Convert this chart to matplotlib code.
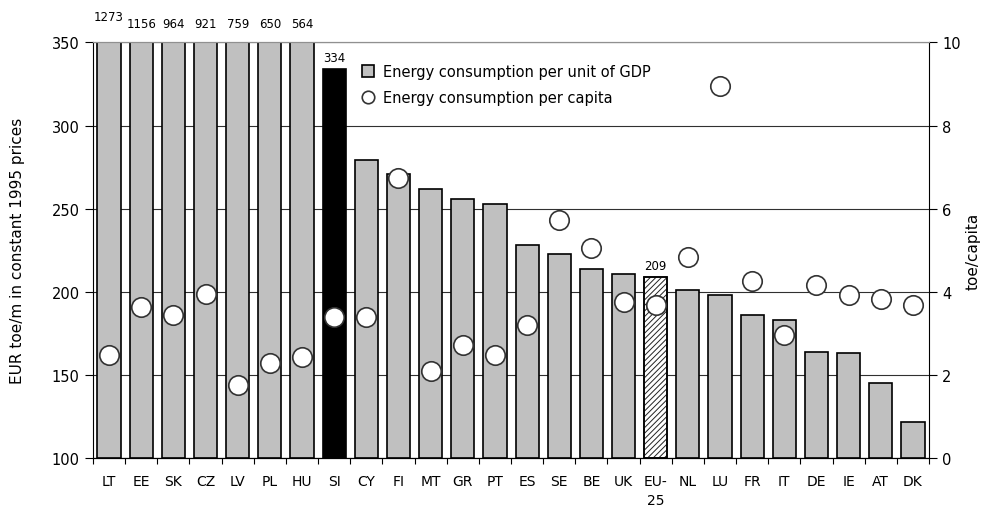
import numpy as np
import matplotlib
matplotlib.use("Agg")
import matplotlib.pyplot as plt
from matplotlib.lines import Line2D

# the reference uses a wide sans face, DejaVu gets closest to its widths
plt.rcParams['font.family'] = ['DejaVu Sans']
plt.rcParams['hatch.linewidth'] = 0.7

# Data
countries = ['LT', 'EE', 'SK', 'CZ', 'LV', 'PL', 'HU', 'SI', 'CY', 'FI', 'MT', 'GR', 'PT',
             'ES', 'SE', 'BE', 'UK', 'EU-\n25', 'NL', 'LU', 'FR', 'IT', 'DE', 'IE', 'AT', 'DK']
gdp_intensity = [1273, 1156, 964, 921, 759, 650, 564, 334, 279, 271, 262, 256, 253,
                 228, 223, 214, 211, 209, 201, 198, 186, 183, 164, 163, 145, 122]
per_capita = [2.49, 3.63, 3.44, 3.96, 1.76, 2.30, 2.44, 3.39, 3.39, 6.75, 2.10, 2.73, 2.49,
              3.21, 5.74, 5.06, 3.76, 3.68, 4.84, 8.95, 4.26, 2.97, 4.16, 3.92, 3.83, 3.68]
highlight = 'SI'
average = 'EU-\n25'
labelled = ['SI', 'EU-\n25']

left_ticks = [100, 150, 200, 250, 300, 350]
right_ticks = [0, 2, 4, 6, 8, 10]

fig = plt.figure(figsize=(9.83, 5.10), dpi=100)
ax = fig.add_axes([0.0946, 0.0994, 0.8505, 0.8157])

x = np.arange(len(countries))
ymin, ymax = 100, 350

for i, (c, v) in enumerate(zip(countries, gdp_intensity)):
    if c == highlight:
        ax.bar(i, v - ymin, bottom=ymin, width=0.72, color='black', edgecolor='black', linewidth=1.2, zorder=2)
    elif c == average:
        ax.bar(i, v - ymin, bottom=ymin, width=0.72, color='white', edgecolor='#222222', hatch='//////',
               linewidth=1.2, zorder=2)
        ax.bar(i, v - ymin, bottom=ymin, width=0.72, color='none', edgecolor='black', linewidth=1.2, zorder=2)
    else:
        ax.bar(i, v - ymin, bottom=ymin, width=0.72, color='#C0C0C0', edgecolor='black', linewidth=1.2, zorder=2)

    # bars running off the top get their value written above the frame
    if v > ymax:
        extra = 0.016 if i == 0 else 0.0
        ax.text(i, 1.03 + extra, str(v), transform=ax.get_xaxis_transform(), ha='center', va='bottom',
                fontsize=8.5, clip_on=False)
    elif c in labelled:
        ax.text(i, v + 3, str(v), ha='center', va='bottom', fontsize=8.5)

ax.set_xlim(-0.5, len(countries) - 0.5)
ax.set_ylim(ymin, ymax)
ax.set_yticks(left_ticks)
ax.tick_params(axis='y', direction='out', length=6, labelsize=10.5)
ax.grid(axis='y', color='#303030', linewidth=0.8)
ax.set_axisbelow(True)

# ticks at category boundaries, labels at centres
ax.set_xticks(np.arange(len(countries) + 1) - 0.5)
ax.set_xticklabels([])
ax.tick_params(axis='x', which='major', direction='out', length=4)
ax.set_xticks(x, minor=True)
ax.set_xticklabels(countries, minor=True, fontsize=10, linespacing=1.5)
ax.tick_params(axis='x', which='minor', length=0, pad=11)

ax.set_ylabel('EUR toe/m in constant 1995 prices', fontsize=11)
ax.yaxis.set_label_coords(-0.081, 0.5)

ax.spines['top'].set_color('#909090')
ax.spines['right'].set_visible(False)

ax2 = ax.twinx()
ax2.plot(x, per_capita, linestyle='none', marker='o', markersize=14, markerfacecolor='white',
         markeredgecolor='#333333', markeredgewidth=1.2, zorder=3)
ax2.set_ylim(0, 10)
ax2.set_yticks(right_ticks)
ax2.tick_params(axis='y', direction='out', length=6, labelsize=10.5)
ax2.set_ylabel('toe/capita', fontsize=11)
ax2.yaxis.set_label_coords(1.044, 0.5)
ax2.spines['top'].set_color('#909090')
ax2.spines['left'].set_visible(False)

handles = [
    Line2D([], [], linestyle='none', marker='s', markersize=9, markerfacecolor='#C0C0C0',
           markeredgecolor='black', markeredgewidth=1.2),
    Line2D([], [], linestyle='none', marker='o', markersize=9, markerfacecolor='white',
           markeredgecolor='#333333', markeredgewidth=1.2),
]
ax2.legend(handles, ['Energy consumption per unit of GDP', 'Energy consumption per capita'],
           loc='upper left', bbox_to_anchor=(0.31, 0.973), frameon=False, fontsize=10.5,
           handlelength=0.8, handletextpad=0.6, labelspacing=0.75, borderpad=0.2)

fig.savefig('out.png', dpi=100, facecolor='white')
